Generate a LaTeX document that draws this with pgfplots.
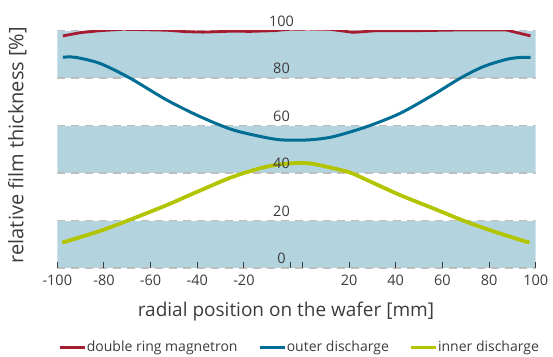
\documentclass[border=0pt]{standalone}
\usepackage{fontspec}
\setmainfont{Open Sans}
\usepackage{pgfplots}
\pgfplotsset{compat=1.18}
\definecolor{band}{HTML}{B3D4DF}
\definecolor{cred}{HTML}{A51C30}
\definecolor{cblue}{HTML}{006E94}
\definecolor{cgreen}{HTML}{B2C500}
\definecolor{gridc}{HTML}{BDBDBD}
\definecolor{txt}{HTML}{3C3C3C}
\begin{document}
\begin{tikzpicture}
\useasboundingbox (-57.3pt,-88pt) rectangle (495.7pt,268pt);
\begin{axis}[
  at={(0pt,0pt)}, anchor=south west,
  scale only axis, width=478.4pt, height=237.3pt,
  axis on top,
  x coord trafo/.code={\pgfmathparse{#1>0 ? #1+5.07 : #1}},
  x coord inv trafo/.code={\pgfmathparse{#1>5.07 ? #1-5.07 : #1}},
  xmin=-100, xmax=100, ymin=0, ymax=100,
  axis line style={draw=none},
  xtick={-100,-80,-60,-40,-20,0,0.001,20,40,60,80,100},
  xticklabels={-100,-80,-60,-40,-20,,,20,40,60,80,100},
  xtick pos=bottom, tick align=inside,
  major tick length=6.5pt,
  x tick style={draw=txt, line width=1pt},
  ytick={0,20,40,60,80,100},
  yticklabels={0,20,40,60,80,100},
  y tick style={draw=none},
  tick label style={font=\fontsize{14.5}{16}\selectfont, text=txt},
  xticklabel style={anchor=base, yshift=-17.5pt},
  yticklabel style={anchor=base, xshift=224.2pt, yshift=4.5pt},
  xlabel={radial position on the wafer [mm]},
  ylabel={relative film thickness [\%]},
  xlabel style={font=\fontsize{19}{22}\selectfont, text=txt, at={(axis description cs:0.478,0)}, anchor=base, yshift=-48.7pt},
  ylabel style={font=\fontsize{20}{22}\selectfont, text=txt, at={(axis description cs:0,0.518)}, anchor=base, yshift=33.8pt},
  legend columns=3,
  legend style={at={(axis description cs:0.505,0)}, anchor=center, yshift=-79pt,
    draw=none, fill=none, font=\fontsize{14}{16}\selectfont, text=txt,
    nodes={inner sep=0.6pt}, cells={anchor=west},
    /tikz/every even column/.append style={column sep=20pt}},
  legend image code/.code={\draw[#1, line width=3pt] (0pt,0pt) -- (25pt,0pt);},
]
% bands
\addplot[fill=band, draw=none, forget plot] coordinates {(-100,80) (100,80) (100,100) (-100,100)} -- cycle;
\addplot[fill=band, draw=none, forget plot] coordinates {(-100,40) (100,40) (100,60) (-100,60)} -- cycle;
\addplot[fill=band, draw=none, forget plot] coordinates {(-100,0) (100,0) (100,20) (-100,20)} -- cycle;
% dashed lines
\foreach \yy in {0,20,40,60,80,100} {
  \addplot[gridc, line width=1.5pt, dash pattern=on 8pt off 6pt, forget plot] coordinates {(-100,\yy) (100,\yy)};
}
\addplot[cred, line width=2.8pt] coordinates {
(-97.6,97.8) (-90,99.2) (-81.7,100.0) (-71.9,100.6) (-62,100.4) (-53,100.2) (-45,99.6) (-37.6,99.4) (-24.8,99.8) (-17.5,99.7) (-7.5,100.0) (-0.3,100.6)
(4,100.7) (11.7,100.6) (21.7,99.3) (31.7,100.0) (48.8,100.0) (67.4,100.3) (87.4,100.3) (97.8,97.8)};
\addlegendentry{double ring magnetron}
\addplot[cblue, line width=3pt, smooth] coordinates {
(-97.6,88.8) (-92.4,88.8) (-81.7,86.2) (-68.8,80.0) (-53.1,70.8) (-38.8,63.8) (-24.7,58.2) (-10.3,54.9) (-4,54.0) (0,53.9)
(3,54.0) (13.0,55.3) (27.4,59.5) (41.7,65.1) (55.9,72.9) (67.5,79.9) (77.4,84.8) (87.4,87.9) (93,88.7) (97.8,88.8)};
\addlegendentry{outer discharge}
\addplot[cgreen, line width=3.8pt, smooth] coordinates {
(-97.9,10.7) (-81.7,15.6) (-67.4,20.9) (-53.1,26.5) (-38.9,32.6) (-24.6,38.5) (-10.3,42.7) (0,44.1)
(3,44.1) (10.3,42.7) (20.2,40.3) (27.4,37.2) (41.7,30.8) (55.9,25.2) (70.2,19.5) (84.5,14.6) (97.3,10.7)};
\addlegendentry{inner discharge}
\end{axis}
\end{tikzpicture}
\end{document}
